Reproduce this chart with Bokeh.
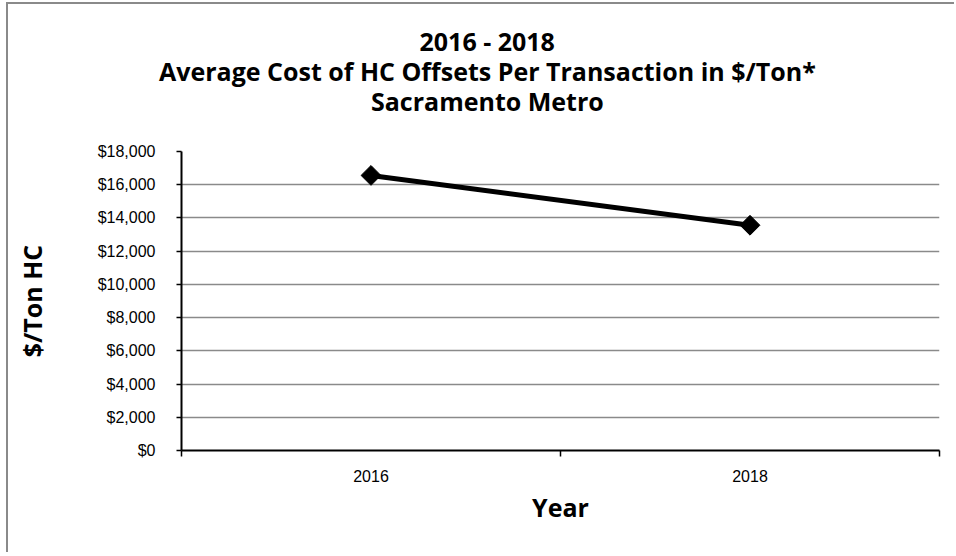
import math
from bokeh.plotting import figure
from bokeh.models import FixedTicker, NumeralTickFormatter, Range1d, Title
from bokeh.embed import file_html
from bokeh.resources import INLINE

years = ["2016", "2018"]
cost = [16560, 13560]
y_ticks = [0, 2000, 4000, 6000, 8000, 10000, 12000, 14000, 16000, 18000]
title_lines = ["2016 - 2018",
               "Average Cost of HC Offsets Per Transaction in $/Ton*",
               "Sacramento Metro"]

xs = [i + 0.5 for i in range(len(years))]
bounds = list(range(len(years) + 1))

W, H = 946, 548
ML, MT, FW, FH = 173, 147, 756, 297
p = figure(width=W, height=H, output_backend="svg", toolbar_location=None,
           x_range=Range1d(0, len(years)), y_range=Range1d(y_ticks[0], y_ticks[-1]),
           min_border_left=ML, min_border_right=W - ML - FW, min_border_top=MT,
           min_border_bottom=H - MT - FH,
           styles={"border-left": "2px solid #8a8a8a", "border-top": "2px solid #8a8a8a",
                   "box-sizing": "content-box", "overflow": "hidden",
                   "margin-left": "6px", "margin-top": "2px"})
p.outline_line_color = None
p.background_fill_color = "white"
p.border_fill_color = "white"

title_font = "Open Sans"
title_size = "25px"

# Titles: left aligned with offsets so that each line is centred over the chart area
centre = 478 - ML
est_widths = [134, 655, 231]


def style_title(t, standoff, width):
    t.align = "left"
    t.offset = centre - width / 2
    t.text_font = title_font
    t.text_font_size = title_size
    t.text_font_style = "bold"
    t.text_color = "black"
    t.standoff = standoff


p.title.text = title_lines[0]
style_title(p.title, -6, est_widths[0])

spacer = Title(text="\u00a0")
style_title(spacer, 0.5, 0)
p.add_layout(spacer, "above")

t3 = Title(text=title_lines[2])
style_title(t3, -6, est_widths[2])
p.add_layout(t3, "above")
t2 = Title(text=title_lines[1])
style_title(t2, -6, est_widths[1])
p.add_layout(t2, "above")

# x axis
xa = p.xaxis[0]
xa.ticker = FixedTicker(ticks=xs, minor_ticks=bounds)
xa.major_label_overrides = {x: y for x, y in zip(xs, years)}
xa.major_tick_out = 0
xa.major_tick_in = 0
xa.minor_tick_out = 6
xa.minor_tick_in = 0
xa.minor_tick_line_color = "black"
xa.minor_tick_line_width = 1.5
xa.axis_line_color = "black"
xa.axis_line_width = 2
xa.major_label_text_font = "Liberation Sans"
xa.major_label_text_font_size = "16px"
xa.major_label_text_color = "black"
xa.major_label_standoff = 13
xa.axis_label = "Year"
xa.axis_label_text_font = title_font
xa.axis_label_text_font_size = title_size
xa.axis_label_text_font_style = "bold"
xa.axis_label_text_color = "black"
xa.axis_label_standoff = 5

# y axis
ya = p.yaxis[0]
ya.ticker = FixedTicker(ticks=y_ticks, minor_ticks=[])
ya.formatter = NumeralTickFormatter(format="$0,0")
ya.major_tick_out = 5
ya.major_tick_in = 0
ya.major_tick_line_color = "black"
ya.major_tick_line_width = 1.5
ya.axis_line_color = "black"
ya.axis_line_width = 2
ya.major_label_text_font = "Liberation Sans"
ya.major_label_text_font_size = "16px"
ya.major_label_text_color = "black"
ya.major_label_standoff = 21
ya.axis_label = "$/Ton HC"
ya.axis_label_text_font = title_font
ya.axis_label_text_font_size = title_size
ya.axis_label_text_font_style = "bold"
ya.axis_label_text_color = "black"
ya.axis_label_standoff = 46

p.xgrid.visible = False
p.ygrid.ticker = FixedTicker(ticks=y_ticks, minor_ticks=[])
p.ygrid.grid_line_color = "#8a8a8a"
p.ygrid.grid_line_width = 1.5

p.line(xs, cost, line_color="black", line_width=5)
p.scatter(xs, cost, marker="square", size=14, angle=math.pi / 4,
          fill_color="black", line_color="black")

open("out.html", "w").write(file_html(p, INLINE))
